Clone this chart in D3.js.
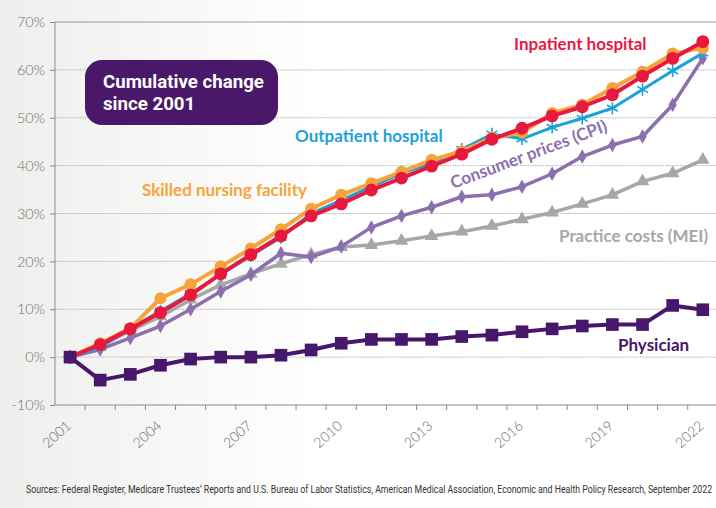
<!DOCTYPE html>
<html>
<head>
<meta charset="utf-8">
<script src="https://cdn.jsdelivr.net/npm/d3@7"></script>
<style>
  html, body { margin: 0; padding: 0; background: #fff; }
  svg { display: block; }
</style>
</head>
<body>
<div class="chart"></div>
<script>
const years = [2001, 2002, 2003, 2004, 2005, 2006, 2007, 2008, 2009, 2010, 2011,
	2012, 2013, 2014, 2015, 2016, 2017, 2018, 2019, 2020, 2021, 2022];
const yearLabels = [2001, 2004, 2007, 2010, 2013, 2016, 2019, 2022];
const yTicks = [-10, 0, 10, 20, 30, 40, 50, 60, 70];

const inpatient = [0, 2.6, 5.9, 9.3, 13.0, 17.4, 21.4, 25.3, 29.5, 32.0, 34.9,
	37.4, 39.9, 42.4, 45.5, 47.8, 50.4, 52.3, 54.8, 58.7, 62.4, 65.9];
const skilledNursing = [0, 2.9, 6.0, 12.3, 15.2, 18.9, 22.7, 26.7, 31.0, 33.9, 36.3,
	38.7, 41.2, 43.0, 45.8, 46.9, 51.0, 52.7, 56.2, 59.6, 63.4, 64.6];
const outpatient = [0, 2.0, 6.0, 9.6, 13.3, 17.2, 21.2, 25.0, 30.0, 32.8, 35.6,
	38.4, 40.5, 43.4, 46.6, 45.6, 48.0, 49.9, 52.0, 55.9, 59.8, 63.5];
const cpi = [0, 1.6, 4.0, 6.5, 10.0, 13.7, 17.2, 21.7, 20.9, 23.1, 27.1,
	29.5, 31.3, 33.5, 33.9, 35.6, 38.3, 41.9, 44.3, 46.1, 52.7, 62.4];
const mei = [0, 2.3, 5.5, 8.5, 12.0, 15.1, 17.4, 19.5, 21.4, 23.0, 23.4,
	24.3, 25.3, 26.2, 27.4, 28.8, 30.2, 32.0, 33.9, 36.7, 38.4, 41.2];
const physician = [0, -4.8, -3.6, -1.7, -0.4, 0, 0, 0.4, 1.5, 2.9, 3.7,
	3.7, 3.7, 4.3, 4.6, 5.3, 5.9, 6.5, 6.8, 6.8, 10.8, 9.9];

const source = "Sources: Federal Register, Medicare Trustees\u2019 Reports and U.S. Bureau of Labor Statistics, American Medical Association, Economic and Health Policy Research, September 2022";

const width = 716, height = 508;
const margin = { top: 22, right: 0, bottom: 103, left: 55 };

const x = d3.scaleBand()
	.domain(years)
	.range([margin.left, margin.left + years.length * 30.13]);

const y = d3.scaleLinear()
	.domain([-10, 70])
	.range([height - margin.bottom, margin.top]);

const cx = d => x(d) + x.bandwidth() / 2;

const svg = d3.select(".chart")
	.append("svg")
	.attr("width", width)
	.attr("height", height)
	.attr("viewBox", [0, 0, width, height]);

// soft grey wash on the left
const grad = svg.append("defs").append("linearGradient")
	.attr("id", "bg").attr("x1", 0).attr("x2", 1).attr("y1", 0).attr("y2", 0);
grad.append("stop").attr("offset", "0").attr("stop-color", "#eeeeec");
grad.append("stop").attr("offset", "0.45").attr("stop-color", "#ffffff");
svg.append("rect").attr("width", width).attr("height", height).attr("fill", "url(#bg)");

// grid
svg.append("g")
	.selectAll("line")
	.data(yTicks.filter(d => d !== -10))
	.join("line")
	.attr("x1", margin.left)
	.attr("x2", width)
	.attr("y1", d => y(d))
	.attr("y2", d => y(d))
	.attr("stroke", d => d === 70 ? "#9a9a9a" : "#b4b4b4")
	.attr("stroke-width", 1)
	.attr("stroke-dasharray", d => d === 70 ? null : "1.5,1");

// y axis
svg.append("g")
	.attr("transform", `translate(${margin.left},0)`)
	.call(d3.axisLeft(y).tickValues(yTicks).tickFormat(d => d + "%").tickSize(5).tickPadding(5))
	.call(g => g.select(".domain").attr("stroke", "#8a8a8a").attr("d", `M0,${y(-10)}V${y(70)}`))
	.call(g => g.selectAll(".tick line").attr("stroke", "#8a8a8a"))
	.call(g => g.selectAll(".tick text")
		.attr("fill", "#707070")
		.style("font", "300 14.5px Lato, 'Open Sans', sans-serif"));

// x axis: ticks on band edges, labels on every third year
const xg = svg.append("g").attr("transform", `translate(0,${y(-10)})`);
xg.append("line")
	.attr("x1", margin.left).attr("x2", width)
	.attr("stroke", "#8a8a8a");
xg.selectAll(".edge")
	.data(years.slice(1))
	.join("line")
	.attr("class", "edge")
	.attr("x1", d => x(d)).attr("x2", d => x(d))
	.attr("y1", 0).attr("y2", 5)
	.attr("stroke", "#8a8a8a");
xg.selectAll("text")
	.data(yearLabels)
	.join("text")
	.attr("transform", d => `translate(${cx(d) + 2},${22}) rotate(-42)`)
	.attr("text-anchor", "end")
	.attr("fill", "#6a6a6a")
	.style("font", "300 14px Lato, 'Open Sans', sans-serif")
	.text(d => d);

// series
const line = d3.line().x((d, i) => cx(years[i])).y(d => y(d));

const series = [
	{ values: mei, color: "#a7a7a7", width: 3.5, symbol: d3.symbolTriangle, size: 80 },
	{ values: cpi, color: "#8c6fae", width: 3.5, symbol: d3.symbolDiamond, size: 60 },
	{ values: outpatient, color: "#1ba2dc", width: 3, symbol: d3.symbolAsterisk, size: 110, stroke: true },
	{ values: skilledNursing, color: "#f6a43a", width: 4, symbol: d3.symbolCircle, size: 115 },
	{ values: inpatient, color: "#e8193f", width: 4, symbol: d3.symbolCircle, size: 130 },
	{ values: physician, color: "#47176b", width: 4, symbol: d3.symbolSquare, size: 160 }
];

series.forEach(s => {
	const g = svg.append("g");
	g.append("path")
		.attr("d", line(s.values))
		.attr("fill", "none")
		.attr("stroke", s.color)
		.attr("stroke-width", s.width)
		.attr("stroke-linejoin", "round");
	g.selectAll("path.mark")
		.data(s.values)
		.join("path")
		.attr("class", "mark")
		.attr("transform", (d, i) => `translate(${cx(years[i])},${y(d)})`)
		.attr("d", d3.symbol(s.symbol, s.size))
		.attr("fill", s.stroke ? "none" : s.color)
		.attr("stroke", s.stroke ? s.color : null)
		.attr("stroke-width", s.stroke ? 1.6 : null);
});

// series labels
const labelFont = "700 17px Lato, 'Open Sans', sans-serif";
const labels = [
	{ text: "Inpatient hospital", color: "#e8193f", x: 514, y: 50 },
	{ text: "Outpatient hospital", color: "#1ba2dc", x: 295, y: 142 },
	{ text: "Skilled nursing facility", color: "#f6a43a", x: 142, y: 196 },
	{ text: "Practice costs (MEI)", color: "#a7a7a7", x: 559, y: 242 },
	{ text: "Physician", color: "#47176b", x: 618, y: 351 }
];
svg.append("g")
	.selectAll("text")
	.data(labels)
	.join("text")
	.attr("x", d => d.x)
	.attr("y", d => d.y)
	.attr("fill", d => d.color)
	.style("font", labelFont)
	.text(d => d.text);

svg.append("text")
	.attr("transform", "translate(453,189) rotate(-20.5)")
	.attr("fill", "#8c6fae")
	.style("font", labelFont)
	.text("Consumer prices (CPI)");

// squeeze a text horizontally so it spans the given width (stand-in for a condensed face)
function fitWidth(sel, x0, y0, w) {
	const k = w / sel.node().getComputedTextLength();
	sel.attr("transform", `translate(${x0},${y0}) scale(${k},1)`);
	return k;
}

// title box
svg.append("rect")
	.attr("x", 85).attr("y", 60)
	.attr("width", 193).attr("height", 65)
	.attr("rx", 17)
	.attr("fill", "#4a1868");
const titleFont = "700 19px Roboto, 'Liberation Sans', sans-serif";
const t1 = svg.append("text").attr("fill", "#fff").style("font", titleFont).text("Cumulative change");
const k = fitWidth(t1, 103, 88, 161);
svg.append("text").attr("fill", "#fff").style("font", titleFont).text("since 2001")
	.attr("transform", `translate(103,110) scale(${k},1)`);

// source note
const src = svg.append("text")
	.attr("fill", "#333")
	.style("font", "11.5px Roboto, 'Liberation Sans', sans-serif")
	.text(source);
fitWidth(src, 26, 493, 687);
</script>
</body>
</html>
